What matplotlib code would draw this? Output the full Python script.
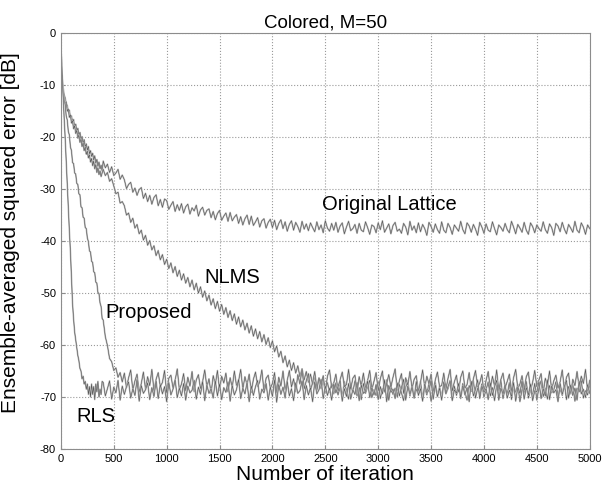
import numpy as np
import matplotlib
matplotlib.use("Agg")
import matplotlib.pyplot as plt

plt.rcParams['font.family'] = ['Liberation Sans', 'DejaVu Sans']
plt.rcParams['axes.unicode_minus'] = False

# =========================================================
# DATA (dB)
# early part: iterations 0..390 every 10, late part: 400..5000 every 20
# =========================================================

rls_early = [-3, -7, -11.5, -16, -20, -24.5, -29, -33.5, -38, -42,
             -47, -52, -55, -57.5, -59, -60.5, -62, -63, -64.5, -65,
             -66.5, -66, -67.5, -67, -68.5, -67.5, -69.5, -68, -70, -67.5,
             -69.5, -68, -70.5, -67.5, -69, -67, -70, -68.5, -69.5, -67]
rls_late = [-67.2, -69.8, -68.4, -66.9, -70.4, -68.1, -69.2, -66.8, -70.6, -67.9,
            -69.5, -68.0, -67.1, -70.2, -68.4, -69.7, -66.6, -70.8, -67.8, -69.3,
            -68.6, -67.3, -70.5, -68.2, -69.9, -66.9, -70.3, -67.6, -69.4, -68.0,
            -70.9, -67.2, -69.6, -68.5, -66.7, -70.1, -68.3, -69.8, -67.4, -70.6,
            -67.9, -69.2, -68.7, -66.8, -70.4, -68.1, -69.5, -67.0, -70.7, -67.7,
            -69.3, -68.4, -70.2, -66.9, -69.8, -67.5, -70.5, -68.2, -69.1, -67.1,
            -70.8, -67.8, -69.6, -68.6, -66.6, -70.3, -68.3, -69.4, -67.2, -70.9,
            -67.9, -69.7, -68.0, -66.8, -70.4, -68.5, -69.2, -67.4, -70.6, -68.1,
            -69.9, -66.7, -71.0, -67.6, -69.5, -68.1, -70.2, -67.0, -69.8, -68.4,
            -70.7, -67.3, -69.3, -68.8, -66.9, -70.5, -67.8, -69.6, -68.2, -70.9,
            -67.1, -69.4, -68.6, -66.6, -70.3, -67.9, -69.7, -68.3, -70.6, -67.5,
            -69.2, -68.0, -66.8, -70.8, -68.4, -69.9, -67.4, -70.4, -68.6, -69.5,
            -67.2, -70.7, -67.7, -69.3, -68.9, -66.9, -70.1, -68.2, -69.6, -67.6,
            -70.5, -68.0, -69.4, -66.7, -70.9, -67.8, -69.1, -68.5, -70.3, -67.3,
            -69.8, -68.2, -66.6, -70.6, -67.9, -69.5, -68.1, -70.2, -67.0, -69.7,
            -68.4, -70.8, -67.5, -69.2, -68.7, -66.8, -70.4, -67.7, -69.9, -68.3,
            -70.6, -67.1, -69.4, -68.0, -66.9, -70.7, -68.6, -69.3, -67.4, -70.1,
            -67.8, -69.6, -68.2, -70.9, -67.0, -69.8, -68.5, -66.7, -70.3, -67.9,
            -69.1, -68.4, -70.5, -67.3, -69.7, -68.0, -66.8, -70.6, -68.3, -69.4,
            -67.6, -70.2, -68.7, -69.9, -67.2, -70.8, -68.1, -69.3, -66.9, -70.4,
            -68.2, -69.6, -67.5, -70.7, -68.8, -69.0, -67.1, -70.3, -68.4, -69.8,
            -66.7, -70.5, -67.9, -69.2, -68.6, -70.9, -67.4, -69.5, -68.0, -66.8,
            -70.2, -67.7, -69.7, -68.3, -70.6, -67.0, -69.4, -68.5, -70.1, -67.6,
            -69.3]

prop_early = [-3, -9.5, -10.8, -12.9, -13.7, -15.9, -16.7, -18.9, -19.6, -21.9,
              -22.6, -24.9, -25.1, -26.9, -27.1, -28.9, -29.1, -30.9, -31.1, -33.4,
              -33.6, -35.4, -35.6, -37.4, -37.6, -39.4, -40.1, -41.9, -42.1, -43.9,
              -44.1, -45.9, -46.1, -47.9, -48.1, -49.9, -50.1, -51.9, -52.6, -54.9]
prop_late = [-55.2, -58.4, -60.1, -62.6, -63.2, -64.9, -64.4, -66.2, -65.3, -67.1,
             -65.4, -68.2, -66.3, -64.8, -68.7, -66.9, -65.6, -69.1, -67.4, -65.2,
             -68.5, -66.1, -67.8, -64.7, -68.9, -66.6, -65.3, -68.0, -67.2, -64.9,
             -69.2, -66.4, -65.8, -68.3, -66.8, -64.6, -68.6, -67.5, -65.5, -68.8,
             -66.2, -67.9, -65.1, -69.0, -66.7, -65.7, -68.4, -67.0, -64.8, -68.1,
             -66.5, -69.3, -65.9, -67.6, -64.9, -68.7, -66.0, -67.3, -65.4, -69.0,
             -66.3, -68.2, -65.0, -67.8, -66.9, -64.7, -68.5, -66.1, -67.7, -65.6,
             -69.1, -66.6, -65.2, -68.0, -67.1, -64.8, -68.9, -66.4, -65.8, -68.3,
             -67.4, -65.3, -69.2, -66.2, -67.9, -65.0, -68.6, -66.8, -64.9, -68.1,
             -66.5, -69.0, -65.7, -67.5, -64.6, -68.4, -66.9, -65.5, -68.8, -67.2,
             -65.1, -68.7, -66.3, -67.8, -65.9, -69.1, -66.0, -64.8, -68.2, -67.3,
             -65.6, -68.9, -66.7, -65.2, -68.0, -67.6, -64.7, -68.5, -66.4, -65.8,
             -69.2, -66.1, -67.9, -65.4, -68.3, -66.8, -64.9, -68.6, -67.0, -65.3,
             -68.8, -66.5, -65.0, -69.0, -67.4, -65.7, -68.1, -66.2, -64.6, -68.7,
             -66.9, -65.5, -69.3, -66.3, -67.7, -65.1, -68.4, -66.6, -65.9, -68.9,
             -67.2, -64.8, -68.2, -66.0, -67.5, -65.6, -69.1, -66.7, -65.2, -68.0,
             -67.8, -65.4, -68.6, -66.4, -64.7, -68.8, -67.1, -65.8, -69.0, -66.2,
             -65.0, -68.3, -67.6, -65.3, -68.7, -66.5, -64.9, -68.1, -67.3, -65.7,
             -69.2, -66.8, -65.1, -68.5, -66.0, -67.9, -64.8, -68.9, -66.6, -65.4,
             -68.2, -67.0, -65.6, -69.0, -66.3, -64.7, -68.4, -67.5, -65.9, -68.7,
             -66.1, -65.2, -68.8, -67.2, -64.9, -68.0, -66.7, -65.5, -69.1, -66.4,
             -67.7, -65.0, -68.6, -66.9, -65.8, -68.3, -67.1, -64.8, -68.5, -66.2,
             -65.4, -69.3, -66.6, -67.8, -65.1, -68.1, -66.0, -67.4, -64.7, -68.9,
             -66.8]

nlms_early = [-3, -9.5, -11.4, -11.7, -13.6, -13.2, -15.0, -14.6, -16.2, -15.7,
              -17.3, -16.9, -18.4, -17.8, -19.3, -18.7, -20.2, -19.6, -21.0, -20.4,
              -21.8, -21.1, -22.6, -21.9, -23.3, -22.7, -24.0, -23.4, -24.8, -24.1,
              -25.5, -24.6, -26.1, -25.3, -26.8, -25.9, -27.2, -26.5, -27.6, -26.9]
nlms_late = [-26.2, -27.4, -26.8, -28.5, -28.0, -29.4, -30.9, -30.6, -32.7, -32.4,
             -33.2, -35.0, -34.6, -36.4, -35.6, -37.5, -36.8, -38.6, -37.9, -39.8,
             -38.9, -40.8, -39.9, -41.7, -40.9, -42.8, -41.8, -43.6, -42.6, -44.5,
             -43.5, -45.3, -44.2, -46.1, -44.9, -46.8, -45.6, -47.5, -46.3, -48.1,
             -47.0, -48.8, -47.5, -49.4, -48.1, -50.0, -48.8, -50.8, -49.6, -51.5,
             -50.4, -52.3, -51.1, -53.0, -51.6, -53.5, -52.2, -54.1, -52.8, -54.7,
             -53.4, -55.3, -54.0, -56.0, -54.6, -56.5, -55.2, -57.1, -55.8, -57.7,
             -56.3, -58.3, -56.9, -58.8, -57.4, -59.4, -58.0, -59.9, -58.6, -60.5,
             -59.2, -61.3, -60.2, -62.3, -61.2, -63.4, -62.1, -64.2, -62.9, -64.9,
             -63.4, -65.4, -64.0, -66.1, -64.6, -66.7, -65.1, -67.2, -65.6, -67.6,
             -66.0, -67.9, -66.5, -68.4, -66.9, -68.8, -67.2, -69.1, -67.4, -69.4,
             -67.3, -69.6, -68.1, -70.2, -67.0, -68.8, -70.4, -67.6, -69.1, -66.9,
             -69.8, -68.2, -70.5, -67.4, -69.3, -68.0, -66.8, -70.1, -68.6, -69.7,
             -67.1, -70.3, -68.4, -69.0, -66.7, -70.6, -67.8, -69.5, -68.3, -70.0,
             -67.5, -69.2, -70.7, -68.1, -66.9, -69.8, -67.7, -70.2, -68.5, -69.4,
             -67.0, -70.4, -68.2, -69.6, -67.3, -70.8, -68.7, -67.2, -69.9, -68.0,
             -70.1, -67.6, -69.3, -68.4, -66.8, -70.5, -67.9, -69.7, -68.1, -70.3,
             -67.4, -69.1, -70.6, -67.8, -68.9, -66.9, -70.2, -68.3, -69.5, -67.5,
             -70.0, -68.6, -67.1, -69.8, -68.2, -70.7, -67.7, -69.4, -66.8, -70.3,
             -68.4, -69.6, -67.2, -70.5, -68.0, -69.1, -67.6, -70.9, -68.5, -69.3,
             -67.0, -70.2, -68.7, -69.5, -67.4, -70.6, -68.1, -66.9, -69.9, -68.3,
             -70.4, -67.8, -69.2, -68.6, -67.1, -70.1, -68.4, -69.7, -67.3, -70.5,
             -68.0, -69.4, -67.6, -70.8, -68.3, -69.0, -66.8, -70.2, -68.8, -69.6,
             -67.5]

lat_early = [-2, -8.5, -10.2, -11.9, -12.4, -13.6, -13.9, -15.1, -14.8, -16.2,
             -15.9, -17.1, -16.6, -18.2, -17.5, -18.9, -18.3, -19.8, -19.1, -20.4,
             -19.9, -21.2, -20.5, -21.9, -21.3, -22.5, -21.8, -23.2, -22.6, -23.7,
             -23.1, -24.4, -23.6, -25.0, -24.3, -25.6, -24.8, -26.1, -25.4, -26.5]
lat_late = [-24.6, -25.9, -25.2, -26.8, -25.7, -27.4, -26.9, -26.2, -28.1, -27.3,
            -28.2, -29.9, -29.1, -28.7, -30.6, -29.8, -31.2, -30.1, -29.7, -31.8,
            -30.8, -32.4, -31.2, -32.9, -31.6, -31.1, -33.2, -32.0, -33.5, -31.9,
            -32.2, -33.9, -33.1, -32.4, -34.3, -33.0, -34.1, -32.8, -34.6, -33.4,
            -32.9, -34.8, -33.6, -34.2, -33.1, -35.2, -34.0, -33.5, -35.0, -34.1,
            -33.8, -35.5, -34.3, -35.9, -34.7, -34.1, -36.0, -35.2, -34.6, -36.2,
            -34.5, -36.1, -35.4, -34.9, -36.6, -35.3, -36.9, -35.7, -35.0, -36.8,
            -35.2, -37.0, -36.3, -35.5, -37.3, -36.1, -35.7, -37.5, -36.4, -35.8,
            -37.4, -36.0, -37.8, -36.6, -35.9, -37.6, -36.3, -38.1, -36.8, -36.1,
            -37.9, -36.4, -37.2, -38.3, -36.2, -37.7, -36.7, -38.0, -36.5, -37.4,
            -38.2, -36.3, -37.8, -36.9, -38.4, -36.1, -37.5, -38.1, -36.6, -37.9,
            -36.4, -38.3, -37.1, -36.5, -38.6, -37.3, -36.2, -38.0, -37.6, -36.8,
            -38.5, -36.6, -37.9, -38.2, -36.3, -37.4, -38.7, -36.9, -37.2, -38.4,
            -36.5, -37.8, -36.1, -38.3, -37.5, -36.7, -38.6, -37.0, -36.4, -38.1,
            -37.7, -38.5, -36.6, -37.3, -38.8, -36.2, -37.9, -37.1, -38.4, -36.5,
            -38.2, -36.8, -37.6, -38.9, -36.4, -37.2, -38.3, -36.7, -37.8, -38.5,
            -36.3, -37.9, -38.4, -36.6, -37.4, -38.7, -36.9, -37.5, -38.1, -36.2,
            -37.8, -38.6, -36.5, -37.1, -38.3, -36.8, -37.7, -38.9, -36.4, -37.3,
            -38.5, -36.7, -37.9, -38.2, -36.3, -37.6, -38.8, -36.9, -37.4, -38.1,
            -36.6, -37.8, -38.4, -36.2, -37.3, -38.6, -36.8, -37.5, -38.3, -36.4,
            -37.9, -38.7, -36.5, -37.2, -38.4, -36.9, -37.6, -38.1, -36.3, -37.8,
            -38.5, -36.7, -37.4, -38.9, -36.6, -37.1, -38.2, -36.4, -37.7, -38.6,
            -36.8, -37.5, -38.3, -36.2, -37.9, -38.4, -36.5, -37.3, -38.7, -36.9,
            -37.6]

labels = ["Original Lattice", "NLMS", "Proposed", "RLS"]
label_pos = [(2470, -33), (1360, -47), (425, -53.8), (150, -73.8)]

# =========================================================
# PLOT
# =========================================================

it_early = np.arange(0, 400, 10)

def curve(early, late):
    x = np.concatenate([it_early, np.linspace(400, 5000, len(late))])
    return x, np.array(early + late)

fig = plt.figure(figsize=(6.03, 4.88), dpi=100)
ax = fig.add_axes([0.101, 0.080, 0.877, 0.852])

for early, late in [(lat_early, lat_late), (nlms_early, nlms_late),
                    (prop_early, prop_late), (rls_early, rls_late)]:
    x, y = curve(early, late)
    ax.plot(x, y, color="#bababa", lw=1.2)
    ax.plot(x, y, color="#4a4a4a", lw=0.35)

for txt, (tx, ty) in zip(labels, label_pos):
    ax.text(tx, ty, txt, fontsize=14.5, va="center", ha="left")

ax.set_xlim(0, 5000)
ax.set_ylim(-80, 0)
ax.set_xticks(range(0, 5001, 500))
ax.set_yticks(range(-80, 1, 10))
ax.grid(True, linestyle=":", color="#9a9a9a", linewidth=0.8)
for s in ax.spines.values():
    s.set_color("#8c8c8c")
ax.tick_params(direction="in", length=3, color="#8c8c8c", labelsize=8)

ax.set_title("Colored, M=50", fontsize=13.5, pad=4)
ax.set_xlabel("Number of iteration", fontsize=15, labelpad=1)
ax.set_ylabel("Ensemble-averaged squared error [dB]", fontsize=15)
ax.yaxis.set_label_coords(-0.078, 0.52)

fig.savefig("out.png", dpi=100, facecolor="white")
